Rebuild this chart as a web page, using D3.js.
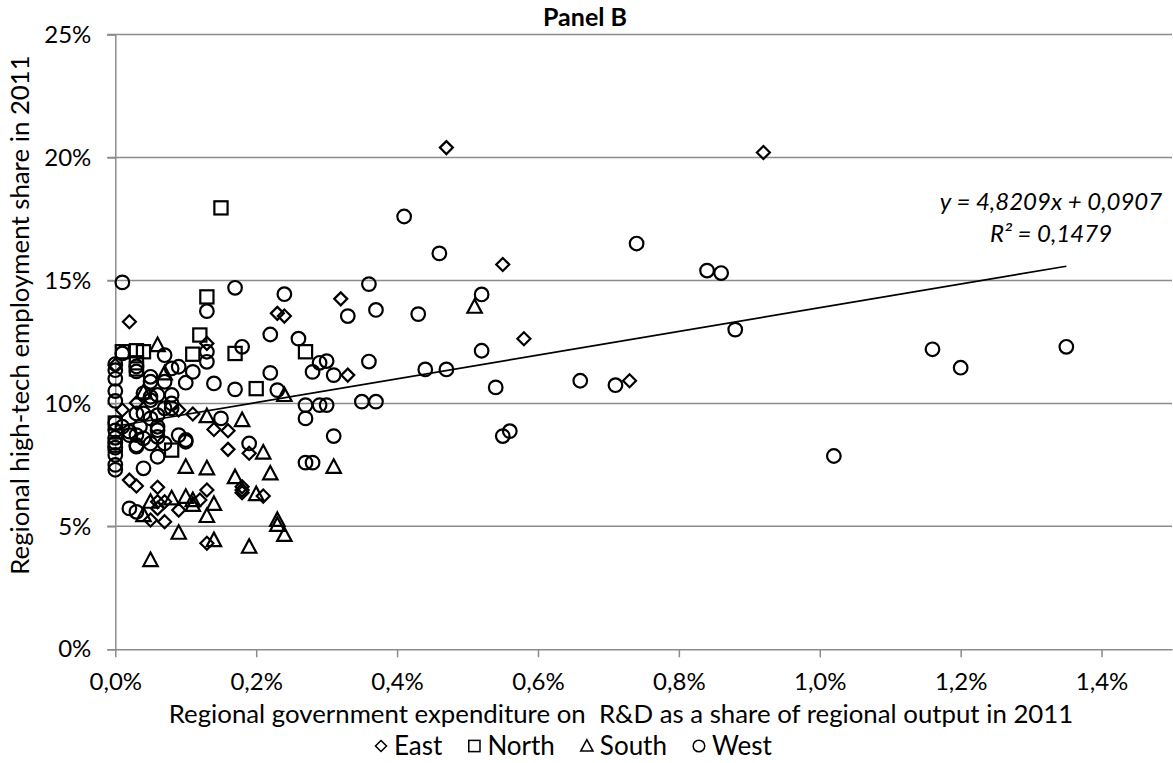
<!DOCTYPE html>
<html lang="en">
<head>
  <meta charset="UTF-8">
  <title>Panel B</title>
  <style>
    body { margin: 0; background: #fff; }
    svg text { font-family: Lato, "Open Sans", sans-serif; fill: #000; }
  </style>
</head>
<body>
  <div id="chart"></div>

  <script src="https://d3js.org/d3.v7.min.js"></script>
  <script>
    // values in percent: [R&D expenditure share, high-tech employment share]
    const east = [
      [0.47, 20.4], [0.92, 20.2], [0.55, 15.65], [0.58, 12.63], [0.73, 10.92],
      [0.23, 13.66], [0.24, 13.55], [0.32, 14.25], [0.33, 11.15], [0.19, 7.97],
      [0.16, 8.13], [0.13, 12.44], [0.09, 9.73], [0.11, 9.57], [0.14, 8.94],
      [0.16, 8.89], [0.02, 13.32], [0.0, 11.55], [0.01, 9.73], [0.03, 10.02],
      [0.18, 6.48], [0.02, 6.88], [0.03, 6.64], [0.06, 6.59], [0.13, 6.48],
      [0.18, 6.61], [0.18, 6.37], [0.21, 6.23], [0.06, 6.0], [0.06, 5.73],
      [0.07, 6.0], [0.09, 5.66], [0.12, 6.07], [0.05, 5.26], [0.07, 5.19],
      [0.13, 4.31]
    ];
    const north = [
      [0.15, 17.95], [0.13, 14.33], [0.12, 12.78], [0.01, 12.1], [0.03, 12.14],
      [0.04, 12.1], [0.03, 11.65], [0.03, 11.4], [0.11, 12.0], [0.17, 12.03],
      [0.27, 12.1], [0.20, 10.6], [0.08, 8.1], [0.0, 8.3], [0.0, 9.2]
    ];
    const south = [
      [0.51, 13.93], [0.06, 12.37], [0.07, 11.22], [0.24, 10.34], [0.18, 9.32],
      [0.13, 9.48], [0.04, 10.45], [0.21, 8.0], [0.31, 7.42], [0.22, 7.15],
      [0.17, 7.0], [0.10, 7.42], [0.13, 7.36], [0.05, 6.0], [0.08, 6.14],
      [0.10, 6.2], [0.11, 6.07], [0.04, 5.46], [0.14, 5.91], [0.11, 5.87],
      [0.20, 6.31], [0.13, 5.42], [0.23, 5.26], [0.23, 5.06], [0.24, 4.65],
      [0.09, 4.74], [0.14, 4.44], [0.19, 4.17], [0.05, 3.63]
    ];
    const west = [
      [0.41, 17.6], [0.46, 16.1], [0.74, 16.5], [0.84, 15.4], [0.86, 15.3],
      [0.52, 14.43], [0.37, 13.8], [0.43, 13.63], [0.52, 12.14], [0.44, 11.38],
      [0.47, 11.38], [0.54, 10.65], [0.66, 10.92], [0.71, 10.74], [0.88, 13.0],
      [0.55, 8.67], [0.56, 8.87], [1.16, 12.2], [1.20, 11.45], [1.35, 12.3],
      [1.02, 7.86], [0.37, 10.07], [0.35, 10.07], [0.36, 14.85], [0.36, 11.7],
      [0.33, 13.55],
      [0.01, 14.92], [0.17, 14.7], [0.24, 14.44], [0.13, 13.75], [0.22, 12.8],
      [0.26, 12.63], [0.18, 12.3], [0.13, 12.1], [0.13, 11.69], [0.29, 11.65],
      [0.30, 11.72], [0.28, 11.28], [0.31, 11.15], [0.22, 11.24], [0.17, 10.57],
      [0.23, 10.54], [0.27, 9.93], [0.29, 9.93], [0.30, 9.93], [0.27, 9.39],
      [0.31, 8.67], [0.19, 8.37], [0.27, 7.59], [0.28, 7.59], [0.14, 10.81],
      [0.11, 11.28], [0.10, 10.84], [0.09, 11.49], [0.08, 11.42], [0.07, 11.96],
      [0.01, 12.03], [0.15, 9.39], [0.10, 8.51], [0.09, 8.71], [0.05, 11.08],
      [0.07, 10.88], [0.05, 10.88], [0.03, 11.5], [0.03, 11.3],
      [0.0, 11.6], [0.0, 11.35], [0.0, 11.0], [0.0, 10.5], [0.0, 10.1],
      [0.0, 9.2], [0.0, 8.9], [0.0, 8.6], [0.0, 8.4], [0.0, 8.2],
      [0.0, 7.9], [0.0, 7.5], [0.0, 7.3],
      [0.04, 10.41], [0.05, 10.27], [0.08, 10.34], [0.06, 10.34], [0.05, 10.13],
      [0.08, 10.0], [0.07, 9.8], [0.08, 9.8], [0.03, 9.59], [0.04, 9.59],
      [0.05, 9.39], [0.06, 9.52], [0.02, 8.71], [0.03, 8.71], [0.04, 8.58],
      [0.06, 8.91], [0.03, 8.30], [0.03, 8.24], [0.05, 8.37], [0.06, 7.83],
      [0.04, 7.36], [0.02, 5.73], [0.03, 5.59], [0.01, 9.05], [0.02, 8.85],
      [0.035, 9.05], [0.06, 9.05], [0.06, 8.64], [0.07, 8.37], [0.10, 8.44]
    ];
    const xTicks = [0, 0.2, 0.4, 0.6, 0.8, 1.0, 1.2, 1.4];
    const yTicks = [0, 5, 10, 15, 20, 25];
    const trend = { slope: 4.8209, intercept: 9.07 }; // y% = 4.8209 * x% + 9.07

    const width = 1173, height = 763;
    const svg = d3.select("#chart").append("svg")
      .attr("width", width)
      .attr("height", height);

    const x = d3.scaleLinear().domain([0, 1.5]).range([115.3, 1172]);
    const y = d3.scaleLinear().domain([0, 25]).range([649.3, 34.5]);
    const pct = v => d3.format(".1f")(v).replace(".", ",") + "%";

    // gridlines
    svg.append("g")
      .selectAll("line")
      .data(yTicks.slice(1))
      .join("line")
      .attr("x1", x(0) - 8).attr("x2", x(1.5))
      .attr("y1", d => y(d)).attr("y2", d => y(d))
      .attr("stroke", "#8c8c8c").attr("stroke-width", 1.5);

    // y axis
    const yAxis = svg.append("g")
      .attr("transform", `translate(${x(0)},0)`)
      .call(d3.axisLeft(y).tickValues(yTicks).tickSize(8).tickFormat(d => d + "%"));
    yAxis.select(".domain").attr("stroke", "#8c8c8c").attr("stroke-width", 1.5);
    yAxis.selectAll(".tick line").attr("stroke", "#8c8c8c").attr("stroke-width", 1.5);
    yAxis.selectAll(".tick text")
      .attr("x", -24)
      .style("font-size", "24px");

    // x axis
    const xAxis = svg.append("g")
      .attr("transform", `translate(0,${y(0)})`)
      .call(d3.axisBottom(x).tickValues(xTicks).tickSize(8).tickSizeOuter(0).tickFormat(pct));
    xAxis.select(".domain").attr("stroke", "#8c8c8c").attr("stroke-width", 1.5);
    xAxis.selectAll(".tick line").attr("stroke", "#8c8c8c").attr("stroke-width", 1.5);
    xAxis.selectAll(".tick text")
      .attr("y", 24)
      .style("font-size", "24px");

    // markers
    const series = [
      { name: "East", data: east, shape: "diamond" },
      { name: "North", data: north, shape: "square" },
      { name: "South", data: south, shape: "triangle" },
      { name: "West", data: west, shape: "circle" }
    ];
    function marker(sel, shape) {
      if (shape === "circle") {
        sel.append("circle").attr("r", 6.8);
      } else if (shape === "square") {
        sel.append("rect").attr("x", -6.6).attr("y", -6.6).attr("width", 13.2).attr("height", 13.2);
      } else if (shape === "diamond") {
        sel.append("path").attr("d", "M0,-6.5L6.5,0L0,6.5L-6.5,0Z");
      } else {
        sel.append("path").attr("d", "M0,-7.5L7.2,6L-7.2,6Z");
      }
      sel.selectAll("*").attr("fill", "none").attr("stroke", "#000").attr("stroke-width", 2.2);
    }
    series.forEach(s => {
      svg.append("g")
        .selectAll("g")
        .data(s.data)
        .join("g")
        .attr("transform", d => `translate(${x(d[0])},${y(d[1])})`)
        .each(function () { marker(d3.select(this), s.shape); });
    });

    // linear trend line
    const all = east.concat(north, south, west);
    const [xMin, xMax] = d3.extent(all, d => d[0]);
    svg.append("line")
      .attr("x1", x(xMin)).attr("y1", y(trend.slope * xMin + trend.intercept))
      .attr("x2", x(xMax)).attr("y2", y(trend.slope * xMax + trend.intercept))
      .attr("stroke", "#000").attr("stroke-width", 1.6);

    svg.append("text")
      .attr("x", 1051).attr("y", 210)
      .attr("text-anchor", "middle")
      .style("font-size", "24px").style("font-style", "italic")
      .text("y = 4,8209x + 0,0907");
    svg.append("text")
      .attr("x", 1051).attr("y", 242)
      .attr("text-anchor", "middle")
      .style("font-size", "24px").style("font-style", "italic")
      .text("R² = 0,1479");

    // titles
    svg.append("text")
      .attr("x", 585).attr("y", 26)
      .attr("text-anchor", "middle")
      .style("font-size", "25px").style("font-weight", "bold")
      .text("Panel B");

    svg.append("text")
      .attr("x", 621).attr("y", 723)
      .attr("text-anchor", "middle")
      .style("font-size", "25.8px").style("white-space", "pre")
      .text("Regional government expenditure on  R&D as a share of regional output in 2011");

    svg.append("text")
      .attr("transform", "translate(29,315) rotate(-90)")
      .attr("text-anchor", "middle")
      .style("font-size", "25.8px")
      .text("Regional high-tech employment share in 2011");

    // legend
    const legend = svg.append("g");
    let lx = 381;
    series.forEach(s => {
      const item = legend.append("g").attr("transform", `translate(${lx},746)`);
      marker(item.append("g").attr("transform", "scale(0.85)"), s.shape);
      item.selectAll("*").attr("stroke-width", 1.8);
      const t = item.append("text")
        .attr("x", 13).attr("y", 9)
        .style("font-size", "26px")
        .text(s.name);
      lx += 13 + t.node().getComputedTextLength() + 32;
    });
  </script>
</body>
</html>
